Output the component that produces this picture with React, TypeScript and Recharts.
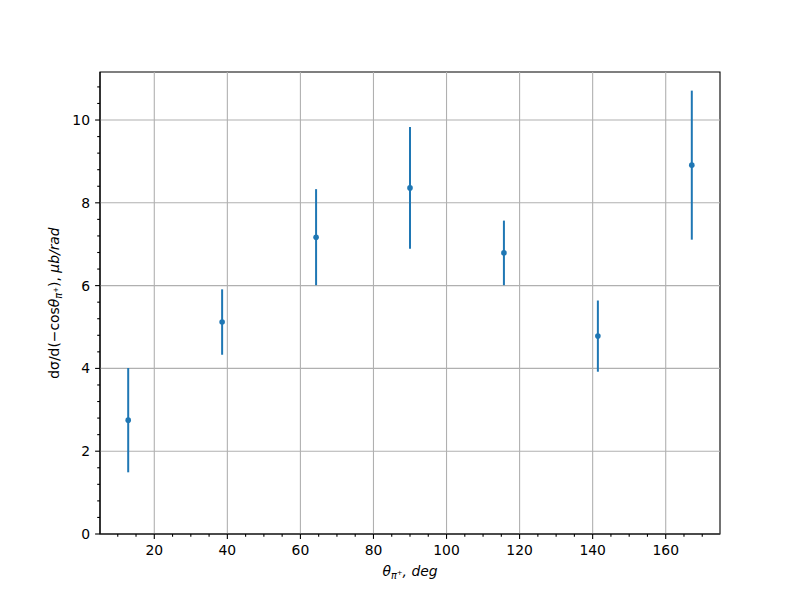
import React from "react";
import {
  ScatterChart,
  Scatter,
  XAxis,
  YAxis,
  ErrorBar,
  ReferenceLine,
  ReferenceArea,
} from "recharts";

// angle bin centres (deg), cross section and its error
const thetaDeg = [12.86, 38.57, 64.29, 90, 115.71, 141.43, 167.14];
const sigma = [2.75, 5.12, 7.17, 8.36, 6.79, 4.78, 8.91];
const sigmaErr = [1.26, 0.79, 1.16, 1.47, 0.78, 0.86, 1.8];

const xMajor = [20, 40, 60, 80, 100, 120, 140, 160];
const xTicks = [10, 15, 20, 25, 30, 35, 40, 45, 50, 55, 60, 65, 70, 75, 80, 85, 90, 95, 100, 105, 110, 115, 120, 125, 130, 135, 140, 145, 150, 155, 160, 165, 170];
const yMajor = [0, 2, 4, 6, 8, 10];
const yTicks = [0, 0.4, 0.8, 1.2, 1.6, 2, 2.4, 2.8, 3.2, 3.6, 4, 4.4, 4.8, 5.2, 5.6, 6, 6.4, 6.8, 7.2, 7.6, 8, 8.4, 8.8, 9.2, 9.6, 10, 10.4, 10.8];

const X_DOMAIN: [number, number] = [5.14, 174.86];
const Y_DOMAIN: [number, number] = [0, 11.16];

const BLUE = "#1f77b4";
const GRID = "#b0b0b0";
const FONT = "'DejaVu Sans', sans-serif";
const FS = 13.9;

const data = thetaDeg.map((x, i) => ({ x, y: sigma[i], err: sigmaErr[i] }));

const isMajor = (v: number, list: number[]) => list.some((m) => Math.abs(m - v) < 1e-6);

const XTick = (props: any) => {
  const { x, y, payload } = props;
  const major = isMajor(payload.value, xMajor);
  return (
    <g>
      <line x1={x} x2={x} y1={y} y2={y + (major ? 4.9 : 2.8)} stroke="#000" strokeWidth={1.1} />
      {major && (
        <text x={x} y={y + 21} textAnchor="middle" fontSize={FS} fontFamily={FONT} fill="#000">
          {payload.value}
        </text>
      )}
    </g>
  );
};

const YTick = (props: any) => {
  const { x, y, payload } = props;
  const major = isMajor(payload.value, yMajor);
  return (
    <g>
      <line x1={x} x2={x - (major ? 4.9 : 2.8)} y1={y} y2={y} stroke="#000" strokeWidth={1.1} />
      {major && (
        <text x={x - 10} y={y + 5} textAnchor="end" fontSize={FS} fontFamily={FONT} fill="#000">
          {payload.value}
        </text>
      )}
    </g>
  );
};

const YLabel = ({ viewBox }: any) => {
  const cx = viewBox.x + 19;
  const cy = viewBox.y + viewBox.height / 2;
  return (
    <text
      x={cx}
      y={cy}
      transform={`rotate(-90, ${cx}, ${cy})`}
      textAnchor="middle"
      fontSize={FS}
      fontFamily={FONT}
      fill="#000"
    >
      <tspan>dσ/d(−cos</tspan>
      <tspan fontStyle="italic">θ</tspan>
      <tspan fontStyle="italic" fontSize={FS * 0.7} dy={3}>π</tspan>
      <tspan fontSize={FS * 0.5} dy={-4}>+</tspan>
      <tspan dy={1}>), </tspan>
      <tspan fontStyle="italic">μb/rad</tspan>
    </text>
  );
};

const XLabel = ({ viewBox }: any) => {
  const cx = viewBox.x + viewBox.width / 2;
  const cy = viewBox.y + 42;
  return (
    <text x={cx} y={cy} textAnchor="middle" fontSize={FS} fontFamily={FONT} fill="#000" fontStyle="italic">
      <tspan>θ</tspan>
      <tspan fontSize={FS * 0.7} dy={3}>π</tspan>
      <tspan fontSize={FS * 0.5} dy={-4} fontStyle="normal">+</tspan>
      <tspan dy={1}>, deg</tspan>
    </text>
  );
};

const Dot = ({ cx, cy }: any) => <circle cx={cx} cy={cy} r={2.8} fill={BLUE} />;

export default function App() {
  return (
    <div style={{ width: 800, height: 600, background: "#fff" }}>
      <style>{`body{margin:0}`}</style>
      <ScatterChart width={800} height={600} margin={{ top: 72, right: 80, bottom: 6, left: 40 }}>
        <XAxis
          type="number"
          dataKey="x"
          domain={X_DOMAIN}
          allowDataOverflow
          ticks={xTicks}
          interval={0}
          tickSize={0}
          tickMargin={0}
          tickLine={false}
          tick={<XTick />}
          axisLine={{ stroke: "#000", strokeWidth: 1.1 }}
          height={60}
          label={<XLabel />}
        />
        <YAxis
          type="number"
          dataKey="y"
          domain={Y_DOMAIN}
          allowDataOverflow
          ticks={yTicks}
          interval={0}
          tickSize={0}
          tickMargin={0}
          tickLine={false}
          tick={<YTick />}
          axisLine={{ stroke: "#000", strokeWidth: 1.1 }}
          width={60}
          label={<YLabel />}
        />
        {xMajor.map((v) => (
          <ReferenceLine key={`gx${v}`} x={v} stroke={GRID} strokeWidth={1.1} />
        ))}
        {yMajor.map((v) => (
          <ReferenceLine key={`gy${v}`} y={v} stroke={GRID} strokeWidth={1.1} />
        ))}
        <ReferenceArea
          x1={X_DOMAIN[0]}
          x2={X_DOMAIN[1]}
          y1={Y_DOMAIN[0]}
          y2={Y_DOMAIN[1]}
          fill="none"
          fillOpacity={0}
          stroke="#000"
          strokeWidth={1.1}
          strokeOpacity={1}
        />
        <Scatter data={data} shape={<Dot />} isAnimationActive={false}>
          <ErrorBar dataKey="err" direction="y" width={0} stroke={BLUE} strokeWidth={2} />
        </Scatter>
      </ScatterChart>
    </div>
  );
}
